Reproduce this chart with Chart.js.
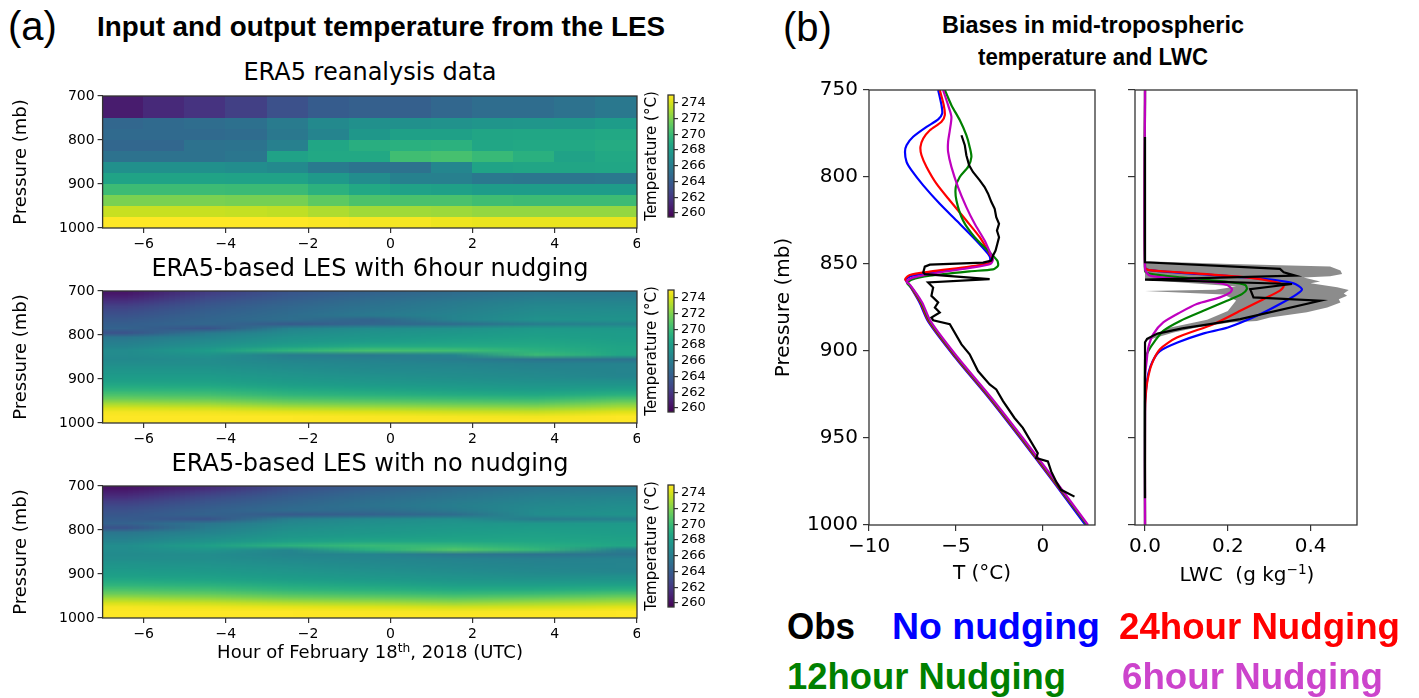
<!DOCTYPE html>
<html>
<head>
<meta charset="utf-8">
<script src="https://cdn.jsdelivr.net/npm/chart.js@4.4.1/dist/chart.umd.min.js"></script>
<style>
  body { margin: 0; width: 1419px; height: 698px; background: #fff; position: relative; overflow: hidden; }
  canvas { position: absolute; }
  .txt { position: absolute; white-space: pre; line-height: 1; color: #000; }
  sup { font-size: 0.68em; vertical-align: 0.5em; line-height: 0; }
</style>
</head>
<body>
<canvas id="h1" width="640" height="170" style="left:0;top:86px"></canvas>
<canvas id="h2" width="640" height="170" style="left:0;top:281px"></canvas>
<canvas id="h3" width="640" height="170" style="left:0;top:476px"></canvas>
<canvas id="cb1" width="80" height="134" style="left:640px;top:89px"></canvas>
<canvas id="cb2" width="80" height="134" style="left:640px;top:284px"></canvas>
<canvas id="cb3" width="80" height="134" style="left:640px;top:479px"></canvas>
<canvas id="tc" width="331" height="520" style="left:768px;top:70px"></canvas>
<canvas id="lc" width="238" height="520" style="left:1125px;top:70px"></canvas>
<script>
// ---- colour scale / ticks
const cbMin = 259.5, cbMax = 275;
const cbTicks = [260, 262, 264, 266, 268, 270, 272, 274];
const hourTicks = [-6, -4, -2, 0, 2, 4, 6];
const presTicksA = [700, 800, 900, 1000];
const presTicksB = [750, 800, 850, 900, 950, 1000];
const tempTicks = [-10, -5, 0];
const lwcTicks = [0, 0.2, 0.4];

// ---- ERA5 reanalysis (K), cell edges in hours and mb
const era5Hours = [-7, -6, -5, -4, -3, -2, -1, 0, 1, 2, 3, 4, 5, 6];
const era5Levels = [700, 750, 775, 800, 825, 850, 875, 900, 925, 950, 975, 1000];
const era5Temp = [
  [260.7, 261.3, 261.8, 262.4, 263.3, 264.0, 264.2, 264.2, 264.6, 265.0, 265.0, 265.3, 265.7],
  [264.6, 264.8, 265.0, 265.2, 265.9, 266.8, 267.2, 267.2, 267.3, 267.5, 267.6, 267.7, 268.0],
  [264.8, 264.8, 264.8, 264.9, 265.7, 266.5, 267.7, 268.3, 268.3, 268.6, 268.7, 268.7, 268.8],
  [264.6, 264.6, 265.3, 265.4, 266.2, 268.7, 269.2, 269.3, 269.4, 268.7, 268.8, 268.8, 269.0],
  [265.3, 265.3, 265.3, 265.6, 268.4, 268.8, 268.8, 270.2, 270.4, 269.9, 269.3, 268.4, 268.8],
  [267.2, 267.2, 267.2, 267.0, 266.8, 265.8, 265.4, 265.3, 266.6, 268.5, 268.6, 268.6, 268.7],
  [268.5, 268.5, 268.5, 268.4, 268.4, 267.8, 267.0, 266.3, 266.2, 265.7, 265.6, 265.6, 265.7],
  [270.1, 270.1, 270.1, 270.0, 270.0, 269.4, 268.8, 268.4, 268.3, 268.0, 268.0, 268.0, 268.0],
  [271.9, 271.9, 271.9, 271.8, 271.8, 271.1, 270.6, 270.5, 270.5, 270.2, 270.1, 270.1, 270.1],
  [273.7, 273.7, 273.7, 273.6, 273.5, 273.1, 272.8, 272.8, 272.7, 272.5, 272.5, 272.5, 272.5],
  [275.0, 275.0, 275.0, 275.0, 275.0, 274.9, 274.8, 274.8, 274.6, 274.5, 274.5, 274.5, 274.5]
];

// ---- LES output (K), sample centres
const lesHours = [-6.5, -4.5, -2.5, -0.5, 1.5, 3.5, 5.5];
const lesLevels = [705, 715, 725, 735, 745, 755, 765, 775, 785, 795, 805, 815, 825, 835, 845,
                   855, 865, 875, 885, 895, 905, 915, 925, 935, 945, 955, 965, 975, 985, 995];
const les6hTemp = [
  [260.4, 262.3, 263.6, 264.4, 265.0, 265.6, 265.7],
  [261.0, 262.9, 264.0, 264.8, 265.4, 266.0, 266.1],
  [261.8, 263.4, 264.3, 265.1, 265.8, 266.4, 266.5],
  [262.5, 263.8, 264.6, 265.4, 266.0, 266.7, 266.8],
  [263.0, 264.1, 264.8, 265.6, 266.2, 266.9, 267.0],
  [263.4, 264.3, 265.0, 265.8, 266.4, 267.1, 267.2],
  [263.8, 264.5, 265.1, 264.4, 266.5, 267.3, 267.4],
  [264.1, 264.6, 263.9, 264.6, 265.0, 266.0, 266.5],
  [264.4, 263.5, 266.4, 267.0, 267.3, 267.9, 267.8],
  [263.4, 265.8, 266.9, 267.4, 267.7, 268.1, 268.0],
  [265.6, 266.4, 267.3, 267.7, 268.0, 268.3, 268.1],
  [266.0, 266.9, 267.7, 268.1, 268.4, 268.6, 268.3],
  [266.4, 267.3, 268.3, 268.9, 268.9, 268.9, 268.5],
  [266.9, 268.0, 269.6, 270.4, 270.2, 269.4, 268.6],
  [266.9, 267.4, 266.0, 265.8, 266.4, 270.0, 268.7],
  [266.8, 267.0, 266.4, 266.3, 266.0, 265.4, 265.3],
  [267.1, 267.1, 266.8, 266.6, 266.5, 266.3, 266.4],
  [267.4, 267.4, 267.0, 266.8, 266.7, 266.5, 266.5],
  [267.7, 267.7, 267.3, 267.0, 266.9, 266.7, 266.5],
  [268.0, 268.0, 267.6, 267.3, 267.1, 266.9, 266.6],
  [268.3, 268.3, 267.9, 267.6, 267.4, 267.2, 267.2],
  [268.9, 268.8, 268.3, 268.0, 267.8, 267.6, 267.7],
  [269.6, 269.5, 268.9, 268.6, 268.3, 268.1, 268.4],
  [270.5, 270.3, 269.6, 269.3, 269.0, 268.8, 269.3],
  [271.5, 271.3, 270.6, 270.3, 270.0, 269.8, 270.6],
  [272.8, 272.5, 271.8, 271.5, 271.2, 271.0, 271.9],
  [274.0, 273.8, 273.2, 272.9, 272.6, 272.4, 273.1],
  [274.8, 274.7, 274.4, 274.2, 273.9, 273.7, 274.3],
  [275.0, 275.0, 275.0, 274.9, 274.8, 274.7, 275.0],
  [275.0, 275.0, 275.0, 275.0, 275.0, 275.0, 275.0]
];
const lesNoTemp = [
  [260.3, 261.5, 263.2, 264.2, 264.9, 265.5, 265.7],
  [260.9, 262.3, 263.7, 264.6, 265.3, 265.9, 266.1],
  [261.6, 263.0, 264.1, 264.9, 265.6, 266.2, 266.5],
  [262.3, 263.5, 264.4, 265.2, 265.9, 266.5, 266.8],
  [262.9, 263.9, 264.7, 265.4, 266.1, 266.7, 267.0],
  [263.3, 264.2, 264.9, 265.0, 265.8, 266.9, 267.2],
  [263.7, 264.4, 263.9, 264.3, 265.0, 267.0, 267.4],
  [264.0, 263.5, 266.2, 266.9, 267.2, 265.9, 266.3],
  [264.3, 265.6, 266.7, 267.2, 267.5, 267.7, 267.8],
  [263.4, 266.0, 267.1, 267.5, 267.8, 268.0, 268.0],
  [265.6, 266.4, 267.4, 267.7, 268.0, 268.2, 268.1],
  [266.0, 266.9, 267.7, 268.0, 268.3, 268.4, 268.3],
  [266.5, 267.4, 268.2, 268.6, 268.7, 268.7, 268.5],
  [267.0, 268.2, 269.4, 269.9, 269.8, 269.2, 268.7],
  [267.0, 267.6, 266.6, 269.3, 270.8, 269.8, 266.2],
  [266.9, 267.0, 266.5, 266.4, 265.6, 265.3, 265.6],
  [267.1, 267.1, 266.8, 266.6, 266.4, 266.2, 266.4],
  [267.4, 267.3, 267.0, 266.8, 266.6, 266.4, 266.5],
  [267.7, 267.6, 267.3, 267.0, 266.8, 266.6, 266.5],
  [268.0, 267.9, 267.6, 267.3, 267.0, 266.8, 266.6],
  [268.3, 268.2, 267.9, 267.6, 267.3, 267.1, 267.2],
  [268.9, 268.7, 268.3, 268.0, 267.7, 267.6, 267.7],
  [269.6, 269.4, 268.9, 268.6, 268.2, 268.2, 268.4],
  [270.5, 270.2, 269.6, 269.3, 268.9, 269.0, 269.3],
  [271.5, 271.2, 270.6, 270.3, 269.9, 270.1, 270.6],
  [272.8, 272.4, 271.8, 271.5, 271.1, 271.4, 271.9],
  [274.0, 273.7, 273.2, 272.9, 272.5, 272.8, 273.1],
  [274.8, 274.6, 274.4, 274.2, 273.9, 274.0, 274.3],
  [275.0, 275.0, 275.0, 274.9, 274.8, 274.9, 275.0],
  [275.0, 275.0, 275.0, 275.0, 275.0, 275.0, 275.0]
];

// ---- (b) temperature profiles (deg C vs mb)
const obsTemp  = [-4.68, -4.49, -4.4, -4.24, -4.02, -3.63, -3.35, -3.15, -2.96, -2.77, -2.68, -2.52, -2.64, -2.52, -2.62, -2.72,
                  -2.87, -2.96, -3.44, -6.5, -6.79, -6.88, -6.79, -3.06, -6.6, -6.31, -6.41, -6.02, -6.21, -5.93, -6.41, -6.31,
                  -5.35, -4.68, -4.21, -3.73, -3.06, -2.68, -2.29, -1.63, -1.15, -0.29, -0.38, 0.29, 0.48, 0.76, 1.05, 1.82];
const obsTempP = [776, 781.7, 787.5, 793.3, 797.1, 801.9, 805.8, 809.6, 814.4, 818.3, 823.1, 826.9, 830.8, 834.6, 838.5, 842.3,
                  845.2, 848.1, 849.2, 850.4, 851.5, 854.8, 855.8, 858.7, 860.6, 863.5, 868.3, 872.1, 875, 877.9, 880.8, 882.3,
                  884.6, 896.2, 901.9, 911.5, 919.2, 922.1, 928.8, 938.5, 944.2, 958.7, 961.5, 963.5, 969.2, 975, 979.8, 983.7];
const noNudgeTemp  = [-6.02, -5.83, -5.79, -6.02, -6.69, -7.46, -7.84, -7.93, -7.84, -7.55, -6.88, -5.93, -4.97, -3.92, -3.15,
                      -3.02, -3.15, -4.21, -6.5, -7.55, -7.9, -7.72, -7.1, -6.6, -5.1, -3.1, -1.3, 0.6, 2.45];
const noNudgeTempP = [750, 758.7, 763.5, 766.9, 771.2, 776.9, 781.7, 785.6, 791.3, 796.2, 804.8, 815.4, 825, 835.6, 844.2,
                      847.1, 849.6, 851.9, 855, 856.9, 859, 861.5, 872, 883, 903, 927, 950, 975, 1000];
const n24Temp  = [-5.93, -5.7, -5.64, -5.83, -6.5, -6.88, -7.04, -6.98, -6.69, -6.12, -5.35, -4.4, -3.63, -3.06, -2.91,
                  -3.06, -4.21, -6.5, -7.65, -7.92, -7.74, -7.05, -6.55, -5.05, -3.05, -1.25, 0.65, 2.55];
const n24TempP = [750, 758.7, 764.4, 768.3, 773.1, 777.9, 782.7, 787.5, 794.2, 803.8, 813.5, 825, 834.6, 844.2, 847.1,
                  849.6, 851.5, 854.4, 856.3, 858.8, 861, 872, 883, 903, 927, 950, 975, 1000];
const n12Temp  = [-5.64, -5.26, -4.78, -4.4, -4.21, -4.11, -4.3, -4.78, -5.01, -4.97, -4.59, -3.92, -3.06, -2.62, -2.58,
                  -2.87, -4.21, -6.5, -7.55, -7.8, -7.55, -7.0, -6.5, -5.0, -3.0, -1.2, 0.7, 2.55];
const n12TempP = [750, 758.7, 767.3, 776, 782.7, 788.5, 794.2, 800, 805.8, 813.5, 825, 834.6, 843.3, 848.1, 851,
                  853.1, 854.2, 856.7, 859, 861.2, 863.5, 872, 883, 903, 927, 950, 975, 1000];
const n6Temp  = [-5.74, -5.45, -5.26, -5.35, -5.45, -5.45, -5.26, -4.88, -4.4, -3.92, -3.35, -2.96, -2.87, -3.02, -4.21,
                 -6.5, -7.55, -7.84, -7.65, -6.95, -6.45, -4.95, -2.95, -1.15, 0.75, 2.6];
const n6TempP = [750, 758.7, 765.4, 773.1, 779.8, 785.6, 794.2, 805.8, 817.3, 826.9, 836.5, 845.2, 847.5, 850, 852.3,
                 855.8, 858.1, 860.2, 861.9, 872, 883, 903, 927, 950, 975, 1000];

// ---- (b) liquid water content (g/kg vs mb)
const obsLwc  = [0, 0, 0.326, 0.335, 0.363, 0, 0.355, 0.254, 0.262, 0.423, 0.23, 0.157, 0.09, 0.03, 0.005, 0, 0];
const obsLwcP = [777, 849, 852.8, 854.8, 856.7, 859, 861.5, 864.4, 869.2, 871.1, 881.7, 884.6, 887, 890, 893, 895, 984.6];
const obsHi  = [0, 0.206, 0.447, 0.472, 0.476, 0.447, 0.383, 0.423, 0.4, 0.464, 0.492, 0.48, 0.488, 0.468, 0.472, 0.44,
                0.391, 0.302, 0.27, 0.206, 0.125, 0.069, 0.028, 0];
const obsHiP = [848.4, 850, 851.5, 853.8, 855.7, 857.1, 857.7, 860, 861.1, 863.4, 864.9, 866.9, 868.2, 870.2, 872.1, 875,
                877.8, 880.7, 882.7, 883.6, 886.5, 889.4, 892.3, 894.2];
const obsLo  = [0, 0.05, 0.15, 0.2, 0.22, 0.19, 0, 0.17, 0.22, 0.08, 0, 0];
const obsLoP = [894.2, 887, 882, 877, 871, 867.5, 865.5, 864.8, 863, 860.5, 859, 848.4];
const noNudgeLwc  = [0, 0, 0.01, 0.125, 0.286, 0.359, 0.379, 0.367, 0.326, 0.27, 0.2, 0.14, 0.08, 0.036, 0.018, 0.008, 0.003, 0, 0];
const noNudgeLwcP = [750, 852, 853.5, 855.7, 858.6, 861.1, 864.4, 867.3, 873, 879.8, 886.5, 890, 895, 900, 906, 913, 921, 929, 1000];
const n24Lwc  = [0, 0, 0.01, 0.085, 0.246, 0.318, 0.335, 0.326, 0.286, 0.23, 0.165, 0.077, 0.036, 0.016, 0.006, 0.002, 0, 0];
const n24LwcP = [750, 852, 853.5, 854.8, 857.7, 860.5, 862.5, 865.3, 870.2, 876.9, 884.6, 892.3, 899, 907.7, 917, 925, 935, 1000];
const n12Lwc  = [0, 0, 0.01, 0.085, 0.206, 0.242, 0.246, 0.234, 0.198, 0.141, 0.085, 0.044, 0.024, 0.008, 0, 0];
const n12LwcP = [750, 854, 855.5, 857.7, 860.5, 862.1, 864.4, 867.3, 871.1, 876.9, 882.7, 888.4, 894.2, 900, 905, 1000];
const n6Lwc  = [0, 0, 0.012, 0.085, 0.165, 0.198, 0.21, 0.206, 0.181, 0.125, 0.085, 0.044, 0.02, 0.008, 0.004, 0, 0];
const n6LwcP = [750, 853, 856.7, 858.6, 860.5, 862.1, 864.4, 866.3, 869.2, 873, 877.8, 883.6, 890.3, 898, 905.7, 915, 1000];

const colObs = '#000000', colNo = '#0000ff', col24 = '#ff0000', col12 = '#008000', col6 = '#bf00bf';

Chart.defaults.font.family = "'DejaVu Sans', sans-serif";
Chart.defaults.color = '#000';

// viridis
const VIRIDIS = ['#440154', '#471365', '#482475', '#463480', '#414487', '#3b528b', '#355f8d', '#2f6c8e', '#2a788e',
  '#25848e', '#21918c', '#1e9c89', '#22a884', '#2fb47c', '#44bf70', '#5ec962', '#7ad151', '#9bd93c', '#bddf26',
  '#dfe318', '#fde725'];
function hexRgb(h) { return [1, 3, 5].map(i => parseInt(h.substr(i, 2), 16)); }
function viridis(t) {
  t = Math.min(1, Math.max(0, t));
  const f = t * (VIRIDIS.length - 1);
  const i = Math.min(Math.floor(f), VIRIDIS.length - 2), u = f - i;
  const a = hexRgb(VIRIDIS[i]), b = hexRgb(VIRIDIS[i + 1]);
  return a.map((v, k) => Math.round(v + (b[k] - v) * u));
}
function tempColor(v) { return viridis((v - cbMin) / (cbMax - cbMin)); }

function minus(v) { return v < 0 ? '\u2212' + Math.abs(v) : String(v); }
function fixTicks(list) { return s => { s.ticks = list.map(v => ({ value: v })); }; }

// draws the cells of a grid through the x / y scales
function heatPlugin(grid, xs, ys, smooth) {
  return {
    id: 'heat',
    beforeDatasetsDraw(chart) {
      const { ctx, chartArea: a, scales: { x, y } } = chart;
      ctx.save();
      ctx.beginPath(); ctx.rect(a.left, a.top, a.right - a.left, a.bottom - a.top); ctx.clip();
      if (smooth) {
        const rows = grid.length, cols = grid[0].length;
        const off = document.createElement('canvas');
        off.width = cols; off.height = rows;
        const octx = off.getContext('2d');
        const img = octx.createImageData(cols, rows);
        grid.forEach((row, r) => row.forEach((v, c) => {
          const k = (r * cols + c) * 4, rgb = tempColor(v);
          img.data[k] = rgb[0]; img.data[k + 1] = rgb[1]; img.data[k + 2] = rgb[2]; img.data[k + 3] = 255;
        }));
        octx.putImageData(img, 0, 0);
        const dx = xs[1] - xs[0], dy = ys[1] - ys[0];
        const x0 = x.getPixelForValue(xs[0] - dx / 2), x1 = x.getPixelForValue(xs[cols - 1] + dx / 2);
        const y0 = y.getPixelForValue(ys[0] - dy / 2), y1 = y.getPixelForValue(ys[rows - 1] + dy / 2);
        ctx.imageSmoothingEnabled = true;
        ctx.imageSmoothingQuality = 'low';
        ctx.drawImage(off, x0, y0, x1 - x0, y1 - y0);
      } else {
        grid.forEach((row, r) => row.forEach((v, c) => {
          const xa = x.getPixelForValue(xs[c]), xb = x.getPixelForValue(xs[c + 1]);
          const ya = y.getPixelForValue(ys[r]), yb = y.getPixelForValue(ys[r + 1]);
          ctx.fillStyle = 'rgb(' + tempColor(v).join(',') + ')';
          ctx.fillRect(Math.floor(Math.min(xa, xb)), Math.floor(Math.min(ya, yb)),
                       Math.ceil(Math.abs(xb - xa)) + 1, Math.ceil(Math.abs(yb - ya)) + 1);
        }));
      }
      ctx.restore();
    }
  };
}

const framePlugin = {
  id: 'frame',
  afterDatasetsDraw(chart) {
    const { ctx, chartArea: a } = chart;
    ctx.save();
    ctx.strokeStyle = '#333'; ctx.lineWidth = 1.3;
    ctx.strokeRect(a.left, a.top, a.right - a.left, a.bottom - a.top);
    ctx.restore();
  }
};

const cbPlugin = {
  id: 'cbar',
  beforeDatasetsDraw(chart) {
    const { ctx, chartArea: a, scales: { y } } = chart;
    const g = ctx.createLinearGradient(0, y.getPixelForValue(cbMin), 0, y.getPixelForValue(cbMax));
    VIRIDIS.forEach((c, i) => g.addColorStop(i / (VIRIDIS.length - 1), c));
    ctx.fillStyle = g;
    ctx.fillRect(a.left, a.top, a.right - a.left, a.bottom - a.top);
  }
};

const tickGrid = len => ({ drawOnChartArea: false, drawTicks: true, tickLength: len, color: '#333', lineWidth: 1.2 });

function heatChart(id, grid, xs, ys, smooth) {
  return new Chart(document.getElementById(id), {
    type: 'scatter',
    data: { datasets: [] },
    options: {
      responsive: false, animation: false,
      layout: { padding: { left: 7, right: 3, top: 10, bottom: 0 } },
      plugins: { legend: { display: false }, tooltip: { enabled: false } },
      scales: {
        x: {
          type: 'linear', min: -7, max: 6,
          afterBuildTicks: fixTicks(hourTicks),
          afterFit: s => { s.height = 28; s.paddingLeft = 0; s.paddingRight = 0; },
          ticks: { font: { size: 14 }, padding: 3, maxRotation: 0, autoSkip: false, callback: v => minus(v) },
          grid: tickGrid(5), border: { display: false }
        },
        y: {
          type: 'linear', reverse: true, min: 700, max: 1000,
          afterBuildTicks: fixTicks(presTicksA),
          afterFit: s => { s.width = 95.6; s.paddingTop = 0; s.paddingBottom = 0; },
          ticks: { font: { size: 14 }, padding: 3, autoSkip: false, callback: v => String(v) },
          grid: tickGrid(5), border: { display: false },
          title: { display: true, text: 'Pressure (mb)', font: { size: 18 }, padding: { top: 4, bottom: 0 } }
        }
      }
    },
    plugins: [heatPlugin(grid, xs, ys, smooth), framePlugin]
  });
}

function colorbar(id) {
  return new Chart(document.getElementById(id), {
    type: 'scatter',
    data: { datasets: [] },
    options: {
      responsive: false, animation: false,
      layout: { padding: { left: 0, right: 0, top: 6, bottom: 6 } },
      plugins: { legend: { display: false }, tooltip: { enabled: false } },
      scales: {
        x: { type: 'linear', display: false, min: 0, max: 1 },
        y: {
          type: 'linear', position: 'right', min: cbMin, max: cbMax,
          afterBuildTicks: fixTicks(cbTicks),
          afterFit: s => { s.width = 46; s.paddingTop = 0; s.paddingBottom = 0; },
          ticks: { font: { size: 13 }, padding: 3, autoSkip: false, callback: v => String(v) },
          grid: tickGrid(4), border: { display: false }
        },
        yl: {
          type: 'linear', position: 'left', axis: 'y', min: cbMin, max: cbMax,
          afterFit: s => { s.width = 28; s.paddingTop = 0; s.paddingBottom = 0; },
          ticks: { display: false }, grid: { display: false }, border: { display: false },
          title: { display: true, text: 'Temperature (\u00b0C)', font: { size: 15 }, padding: { top: 3, bottom: 0 } }
        }
      }
    },
    plugins: [cbPlugin, framePlugin]
  });
}

function profile(xv, pv, color, width, tension) {
  return {
    data: xv.map((v, i) => ({ x: v, y: pv[i] })),
    showLine: true, borderColor: color, backgroundColor: color,
    borderWidth: width, pointRadius: 0, tension: tension, fill: false
  };
}

function profileChart(id, datasets, xmin, xmax, xticks, xfmt, yAxisWidth, ytitle, xtitle, padRight) {
  return new Chart(document.getElementById(id), {
    type: 'scatter',
    data: { datasets: datasets },
    options: {
      responsive: false, animation: false,
      layout: { padding: { left: 0, right: padRight, top: 20, bottom: 0 } },
      plugins: { legend: { display: false }, tooltip: { enabled: false } },
      scales: {
        x: {
          type: 'linear', min: xmin, max: xmax,
          afterBuildTicks: fixTicks(xticks),
          afterFit: s => { s.height = 65; s.paddingLeft = 0; s.paddingRight = 0; },
          ticks: { font: { size: 20 }, padding: 4, maxRotation: 0, autoSkip: false, callback: xfmt },
          grid: tickGrid(6), border: { display: false },
          title: { display: !!xtitle, text: xtitle || '', font: { size: 20 }, padding: { top: 0, bottom: 4 } }
        },
        y: {
          type: 'linear', reverse: true, min: 750, max: 1000,
          afterBuildTicks: fixTicks(presTicksB),
          afterFit: s => { s.width = yAxisWidth; s.paddingTop = 0; s.paddingBottom = 0; },
          ticks: { font: { size: 20 }, padding: 5, autoSkip: false, callback: v => (ytitle ? String(v) : '') },
          grid: tickGrid(ytitle ? 6 : 7), border: { display: false },
          title: { display: !!ytitle, text: ytitle || '', font: { size: 20 }, padding: { top: 4, bottom: 0 } }
        }
      }
    },
    plugins: [framePlugin]
  });
}

// ---- panel (a)
heatChart('h1', era5Temp, era5Hours, era5Levels, false);
heatChart('h2', les6hTemp, lesHours, lesLevels, true);
heatChart('h3', lesNoTemp, lesHours, lesLevels, true);
colorbar('cb1'); colorbar('cb2'); colorbar('cb3');

// ---- panel (b)
profileChart('tc', [
  profile(obsTemp, obsTempP, colObs, 2.2, 0),
  profile(n6Temp, n6TempP, col6, 2.2, 0.25),
  profile(n12Temp, n12TempP, col12, 2.2, 0.25),
  profile(n24Temp, n24TempP, col24, 2.2, 0.25),
  profile(noNudgeTemp, noNudgeTempP, colNo, 2.2, 0.25)
], -10, 3, tempTicks, v => minus(v), 101, 'Pressure (mb)', 'T (\u00b0C)', 4);

const band = profile(obsHi.concat(obsLo), obsHiP.concat(obsLoP), 'rgba(128,128,128,0.9)', 0, 0);
band.fill = 'shape';
profileChart('lc', [
  profile(obsLwc, obsLwcP, colObs, 2.2, 0),
  profile(n6Lwc, n6LwcP, col6, 2.2, 0.25),
  profile(n12Lwc, n12LwcP, col12, 2.2, 0.25),
  profile(n24Lwc, n24LwcP, col24, 2.2, 0.25),
  profile(noNudgeLwc, noNudgeLwcP, colNo, 2.2, 0.25),
  band
], -0.0242, 0.512, lwcTicks, v => v.toFixed(1), 10, null, null, 6);

// ---- figure text
function place(html, o) {
  const d = document.createElement('div');
  d.className = 'txt';
  d.innerHTML = html;
  d.style.fontSize = o.size + 'px';
  d.style.fontFamily = o.family || "'Liberation Sans', Arial, sans-serif";
  if (o.bold) d.style.fontWeight = 'bold';
  if (o.color) d.style.color = o.color;
  document.body.appendChild(d);
  const r = d.getBoundingClientRect();
  const sx = o.w ? o.w / r.width : 1;
  const wEff = r.width * sx;
  d.style.left = (o.cx !== undefined ? o.cx - wEff / 2 : o.x) + 'px';
  d.style.top = (o.cy - r.height / 2) + 'px';
  if (sx !== 1) { d.style.transformOrigin = '0 50%'; d.style.transform = 'scaleX(' + sx + ')'; }
}
const dv = "'DejaVu Sans', sans-serif";
place('(a)', { x: 8, cy: 26, size: 40 });
place('Input and output temperature from the LES', { x: 97, w: 568, cy: 27, size: 28, bold: true });
place('(b)', { x: 783, cy: 27, size: 40 });
place('Biases in mid-tropospheric', { cx: 1093, w: 302, cy: 25, size: 24, bold: true });
place('temperature and LWC', { cx: 1093, w: 230, cy: 57, size: 24, bold: true });
place('ERA5 reanalysis data', { cx: 370, cy: 72, size: 24, family: dv });
place('ERA5-based LES with 6hour nudging', { cx: 370, cy: 268, size: 24, family: dv });
place('ERA5-based LES with no nudging', { cx: 370, cy: 463, size: 24, family: dv });
place('Hour of February 18<sup>th</sup>, 2018 (UTC)', { cx: 370, cy: 652, size: 18, family: dv });
place('LWC  (g kg<sup>\u22121</sup>)', { cx: 1247, cy: 574, size: 20, family: dv });
place('Obs', { x: 787, w: 68, cy: 627, size: 36, bold: true, color: colObs });
place('No nudging', { x: 892, w: 208, cy: 627, size: 36, bold: true, color: colNo });
place('24hour Nudging', { x: 1119, w: 281, cy: 627, size: 36, bold: true, color: col24 });
place('12hour Nudging', { x: 787, w: 279, cy: 677, size: 36, bold: true, color: col12 });
place('6hour Nudging', { x: 1122, w: 261, cy: 677, size: 36, bold: true, color: '#cc44cc' });
</script>
</body>
</html>
